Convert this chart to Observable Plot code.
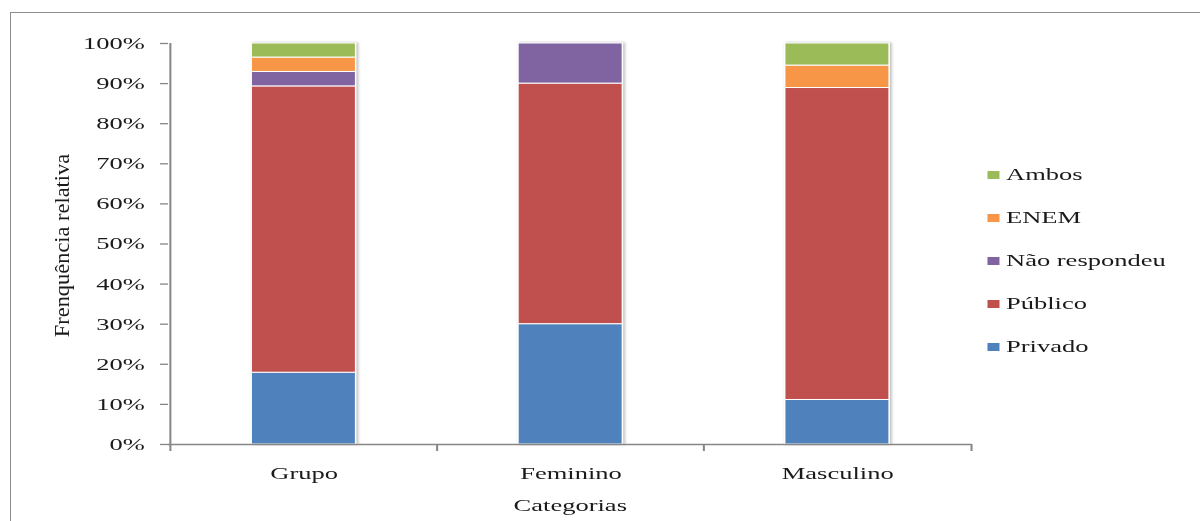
<!DOCTYPE html>
<html lang="pt">
<head>
<meta charset="utf-8">
<script src="https://cdn.jsdelivr.net/npm/d3@7"></script>
<script src="https://cdn.jsdelivr.net/npm/@observablehq/plot@0.6"></script>
<style>
  html, body { margin: 0; padding: 0; background: #fff; overflow: hidden; width: 1200px; height: 521px; }
  #quadro { position: absolute; left: 10px; top: 12px; width: 1300px; height: 700px;
            border: 1.5px solid #8c8c8c; box-sizing: border-box; }
  #grafico { position: absolute; left: 0; top: 0; height: 521px; transform-origin: 0 0; }
  #grafico svg { display: block; }
  #grafico g[aria-label="bar"] { filter: drop-shadow(1px 0.6px 1px rgba(0,0,0,0.28)); }
  #grafico .lg-swatches { position: absolute; width: 170px; margin: 0;
            font-family: "Liberation Serif", "Times New Roman", serif; font-size: 17px; color: #1a1a1a; }
  #grafico .lg-swatch { height: 43px; padding: 0; }
</style>
</head>
<body>
<div id="quadro"></div>
<div id="grafico"></div>
<script>
// Categorias e séries (percentuais empilhados, de baixo para cima)
const categorias = ["Grupo", "Feminino", "Masculino"];
const series = ["Privado", "Público", "Não respondeu", "ENEM", "Ambos"];
const privado      = [17.9, 30.0, 11.1];
const publico      = [71.4, 60.0, 77.8];
const naoRespondeu = [3.6, 10.0, 0];
const enem         = [3.6, 0, 5.6];
const ambos        = [3.5, 0, 5.5];
const cores = ["#4F81BD", "#C0504D", "#8064A2", "#F79646", "#9BBB59"];
const yTicks = [0, 10, 20, 30, 40, 50, 60, 70, 80, 90, 100];
const tituloY = "Frenquência relativa";
const tituloX = "Categorias";

// A figura é desenhada estreita e alargada na horizontal.
const S = 1.56;
const W = 1200 / S;
const H = 521;
const mL = 168 / S, mR = (1200 - 971) / S, mT = 43, mB = H - 444;
const meio = (W - mL - mR) / categorias.length / 2;
const eixo = "#868686";
const tinta = "#1a1a1a";

const valores = [privado, publico, naoRespondeu, enem, ambos];
const tabela = [];
series.forEach((s, j) => categorias.forEach((c, i) => {
  if (valores[j][i] > 0) tabela.push({categoria: c, serie: s, valor: valores[j][i]});
}));
const ultima = categorias[categorias.length - 1];

const grafico = Plot.plot({
  width: W, height: H,
  marginLeft: mL, marginRight: mR, marginTop: mT, marginBottom: mB,
  style: {fontFamily: '"Liberation Serif", "Times New Roman", serif', fontSize: "17px",
          color: tinta, background: "transparent", overflow: "visible"},
  x: {domain: categorias, paddingInner: 0.61, paddingOuter: 0.305},
  y: {domain: [0, 100]},
  color: {domain: series, range: cores},
  marks: [
    Plot.barY(tabela, {x: "categoria", y: "valor", fill: "serie", stroke: "#ffffff", strokeWidth: 1}),
    Plot.ruleY([0], {stroke: eixo, strokeWidth: 1.3}),
    Plot.ruleX([categorias[0]], {x: d => d, dx: -meio, insetBottom: -7, stroke: eixo, strokeWidth: 1.3}),
    Plot.ruleX(categorias.slice(1), {x: d => d, y1: 0, y2: 0, dx: -meio, insetBottom: -7, stroke: eixo, strokeWidth: 1.3}),
    Plot.ruleX([ultima], {x: d => d, y1: 0, y2: 0, dx: meio, insetBottom: -7, stroke: eixo, strokeWidth: 1.3}),
    Plot.axisY({ticks: yTicks, tickFormat: d => d + "%", tickSize: 8 / S, tickPadding: 16 / S,
                stroke: eixo, strokeWidth: 1.3, fill: tinta, label: null}),
    Plot.axisX({tickSize: 0, tickPadding: 22.9, fill: tinta, label: null}),
    Plot.text([tituloY], {text: d => d, frameAnchor: "left", dx: (61 - 168) / S, dy: 1.5, rotate: -90,
                          textAnchor: "middle", fontSize: 14, fill: tinta}),
    Plot.text([tituloX], {text: d => d, frameAnchor: "bottom", dy: 66.6, fill: tinta})
  ]
});

// O título do eixo vertical é alongado no sentido da leitura.
for (const t of grafico.querySelectorAll("text")) {
  if (t.textContent === tituloY) {
    const tr = t.getAttribute("transform") || "";
    t.setAttribute("transform", tr + " scale(1.6,1)");
  }
}

const legenda = Plot.legend({
  color: {domain: [...series].reverse(), range: [...cores].reverse()},
  legend: "swatches", columns: 1, swatchWidth: 12 / S, swatchHeight: 8, className: "lg"
});
legenda.style.left = (987 / S) + "px";
legenda.style.top = (175 - 21.5) + "px";
for (const sw of legenda.querySelectorAll(".lg-swatch > svg")) sw.style.marginRight = (7 / S) + "px";

const alvo = document.getElementById("grafico");
alvo.style.width = W + "px";
alvo.style.transform = `scaleX(${S})`;
alvo.append(grafico, legenda);
</script>
</body>
</html>
